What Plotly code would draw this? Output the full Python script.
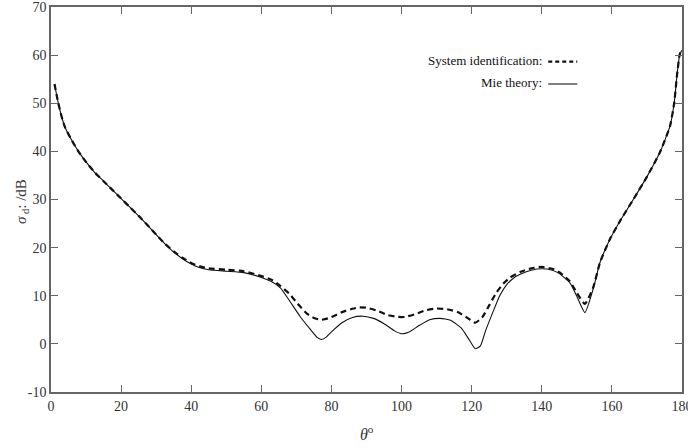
import plotly.graph_objects as go

# Mie theory (solid)
theta_mie = [1, 2, 3, 4, 6, 8, 10, 12.5, 15, 17.5, 20, 22.5, 25, 27.5, 30, 32.5, 35, 37.5,
             40, 42.5, 45, 50, 55, 60, 63, 65.5, 68, 71, 74, 76, 77.2, 78.5, 80, 83, 86,
             89, 92, 95, 98, 100, 102, 105, 108, 111, 114, 117, 119, 121, 122.5, 124,
             126, 128, 130, 132, 134, 137, 140, 143, 145, 148, 150, 152.3, 154.7, 156.6,
             159.4, 162.3, 166.1, 169.9, 173.7, 176.6, 177.8, 178.6, 179.4, 180]
sigma_mie = [54, 50.3, 47.3, 45.0, 42.2, 39.8, 37.8, 35.6, 33.8, 32.0, 30.2, 28.4, 26.6,
             24.7, 22.7, 20.8, 19.1, 17.7, 16.6, 15.8, 15.4, 15.1, 14.8, 13.8, 12.9, 11.6,
             9.0, 5.75, 3.0, 1.3, 0.9, 1.4, 2.5, 4.4, 5.5, 5.75, 5.3, 4.2, 2.7, 2.1, 2.4,
             3.8, 5.0, 5.3, 4.9, 3.3, 1.2, -1.0, -0.4, 2.8, 6.5, 10.0, 12.3, 13.7, 14.5,
             15.3, 15.6, 15.3, 14.6, 12.7, 9.9, 6.5, 11.5, 16.9, 21.7, 25.5, 30.0, 34.6,
             39.8, 45.3, 50.2, 56.0, 60.3, 61.0]

# System identification (dashed)
theta_sys = [1, 2, 3, 4, 6, 8, 10, 12.5, 15, 17.5, 20, 22.5, 25, 27.5, 30, 32.5, 35, 37.5,
             40, 42.5, 45, 50, 55, 60, 63, 65.5, 68, 71, 73, 75, 77, 79, 81, 83, 86, 88,
             90, 93, 96, 99, 101, 104, 107, 110, 113, 116, 119, 121, 123, 125, 127, 129,
             131, 134, 137, 140, 143, 145, 148, 150, 152.3, 154.7, 156.6, 159.4, 162.3,
             166.1, 169.9, 173.7, 176.6, 177.8, 178.6, 179.4, 180]
sigma_sys = [54, 50.3, 47.3, 45.0, 42.2, 39.8, 37.8, 35.6, 33.8, 32.0, 30.2, 28.4, 26.6,
             24.7, 22.7, 20.8, 19.2, 17.9, 16.8, 16.1, 15.7, 15.4, 15.1, 14.1, 13.3, 12.0,
             10.4, 7.8, 6.3, 5.4, 5.0, 5.3, 5.9, 6.6, 7.3, 7.6, 7.5, 6.9, 6.0, 5.6, 5.6,
             6.2, 7.0, 7.35, 7.2, 6.6, 5.3, 4.4, 5.5, 8.0, 10.6, 12.5, 13.8, 15.0, 15.7,
             16.0, 15.6, 14.9, 13.0, 10.6, 8.3, 11.8, 16.9, 21.7, 25.5, 30.0, 34.6, 39.8,
             45.3, 50.2, 56.0, 60.3, 61.0]

x_ticks = [0, 20, 40, 60, 80, 100, 120, 140, 160, 180]
y_ticks = [-10, 0, 10, 20, 30, 40, 50, 60, 70]
y_tick_text = ["-10", "0", "10", "20", "30", "40", "50", "60", "70"]

FONT = "Liberation Serif"

fig = go.Figure()
fig.add_trace(go.Scatter(x=theta_sys, y=sigma_sys, mode="lines",
                         line=dict(color="#111111", width=2.2, dash="6px,4px",
                                   shape="spline", smoothing=0.5),
                         showlegend=False))
fig.add_trace(go.Scatter(x=theta_mie, y=sigma_mie, mode="lines",
                         line=dict(color="#111111", width=1.1, shape="spline", smoothing=0.5),
                         showlegend=False))

axis_common = dict(showline=True, linecolor="#666666", linewidth=1.5, mirror="ticks",
                   ticks="inside", ticklen=7, tickcolor="#666666", tickwidth=1,
                   showgrid=False, zeroline=False, automargin=False,
                   ticklabeloverflow="allow",
                   tickfont=dict(family=FONT, size=14, color="#333333"))

fig.update_xaxes(range=[0, 180], tickvals=x_ticks, ticktext=[str(v) for v in x_ticks],
                 **axis_common)
fig.update_yaxes(range=[-10, 70], tickvals=y_ticks, ticktext=y_tick_text, **axis_common)

# axis titles
fig.add_annotation(xref="paper", yref="paper", x=0.5, y=-0.106, xanchor="center", yanchor="middle",
                   text="<i>θ</i><sup>o</sup>", showarrow=False,
                   font=dict(family=FONT, size=16, color="#333333"))
fig.add_annotation(xref="paper", yref="paper", x=-0.046, y=0.496, xanchor="center", yanchor="middle",
                   text="<i>σ</i><sub> d</sub>: /dB", showarrow=False, textangle=-90,
                   font=dict(family=FONT, size=15, color="#333333"))

# legend (text + sample lines)
fig.add_annotation(xref="paper", yref="paper", x=0.781, y=0.862, xanchor="right", yanchor="middle",
                   text="System identification:", showarrow=False,
                   font=dict(family=FONT, size=13, color="#111111"))
fig.add_annotation(xref="paper", yref="paper", x=0.781, y=0.804, xanchor="right", yanchor="middle",
                   text="Mie theory:", showarrow=False,
                   font=dict(family=FONT, size=13, color="#111111"))
fig.add_shape(type="line", xref="paper", yref="paper", x0=0.788, x1=0.834, y0=0.858, y1=0.858,
              line=dict(color="#111111", width=2.2, dash="4px,3px"))
fig.add_shape(type="line", xref="paper", yref="paper", x0=0.788, x1=0.834, y0=0.800, y1=0.800,
              line=dict(color="#111111", width=1.1))

fig.update_layout(width=688, height=448, plot_bgcolor="white", paper_bgcolor="white",
                  margin=dict(l=51, r=6, t=7, b=56), showlegend=False)

fig.write_html("out.html", config={"displayModeBar": False},
               post_script="document.body.style.margin='0';document.body.style.padding='0';")
